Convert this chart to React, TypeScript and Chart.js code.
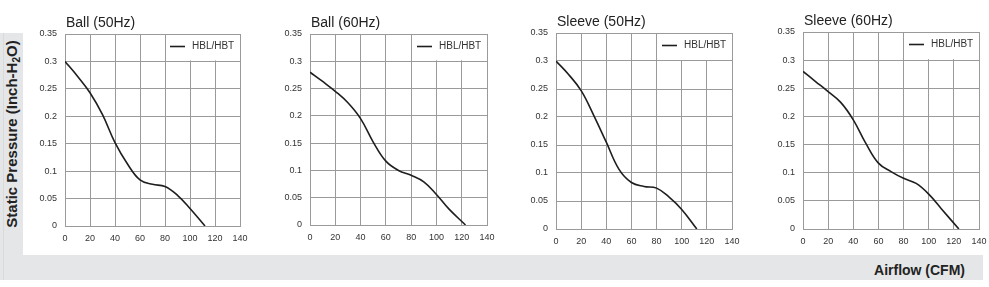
import React, { useEffect, useRef } from "react";
import { Chart, registerables } from "chart.js";

Chart.register(...registerables);

// Shared axis ticks
const airflowTicks = [0, 20, 40, 60, 80, 100, 120, 140];
const pressureTicks = [0, 0.05, 0.1, 0.15, 0.2, 0.25, 0.3, 0.35];
const seriesName = "HBL/HBT";

// Fan curves: airflow (CFM) vs static pressure (inch H2O)
const ball50Flow = [0, 10, 20, 30, 40, 50, 60, 70, 80, 90, 100, 112];
const ball50Pressure = [0.3, 0.273, 0.243, 0.203, 0.152, 0.113, 0.084, 0.076, 0.072, 0.056, 0.032, 0];

const ball60Flow = [0, 10, 20, 30, 40, 50, 60, 70, 80, 90, 100, 110, 123];
const ball60Pressure = [0.28, 0.263, 0.245, 0.224, 0.195, 0.152, 0.117, 0.1, 0.091, 0.079, 0.056, 0.029, 0];

const sleeve50Flow = [0, 10, 20, 30, 40, 50, 60, 70, 80, 90, 100, 112];
const sleeve50Pressure = [0.3, 0.276, 0.247, 0.203, 0.155, 0.107, 0.083, 0.076, 0.073, 0.057, 0.035, 0];

const sleeve60Flow = [0, 10, 20, 30, 40, 50, 60, 70, 80, 90, 100, 110, 124];
const sleeve60Pressure = [0.28, 0.262, 0.244, 0.225, 0.194, 0.152, 0.117, 0.102, 0.09, 0.081, 0.062, 0.036, 0];

const FONT = "'Liberation Sans', Arial, Helvetica, sans-serif";
const GRID = "#9a9a9a";
const AXIS_W = 40;
const PAD_R = 10;
const CANVAS_H = 250;

type Panel = {
  title: string;
  flow: number[];
  pressure: number[];
  area: { left: number; right: number; top: number; bottom: number };
};

const panels: Panel[] = [
  { title: "Ball (50Hz)", flow: ball50Flow, pressure: ball50Pressure, area: { left: 65, right: 240, top: 34, bottom: 226 } },
  { title: "Ball (60Hz)", flow: ball60Flow, pressure: ball60Pressure, area: { left: 310, right: 487, top: 34, bottom: 225 } },
  { title: "Sleeve (50Hz)", flow: sleeve50Flow, pressure: sleeve50Pressure, area: { left: 556, right: 732, top: 33, bottom: 229 } },
  { title: "Sleeve (60Hz)", flow: sleeve60Flow, pressure: sleeve60Pressure, area: { left: 803, right: 979, top: 32, bottom: 229 } },
];

function FanChart({ panel }: { panel: Panel }) {
  const ref = useRef<HTMLCanvasElement | null>(null);
  const { area } = panel;
  const width = area.right - area.left + AXIS_W + PAD_R;

  useEffect(() => {
    if (!ref.current) return;

    // Title above the plot and an in-plot legend with a white backing box
    const decor = {
      id: "panelDecor",
      afterDraw(chart: any) {
        const { ctx, chartArea } = chart;
        ctx.save();
        ctx.fillStyle = "#222";
        ctx.font = `14px ${FONT}`;
        ctx.textBaseline = "middle";
        ctx.textAlign = "left";
        ctx.fillText(panel.title, chartArea.left + 1, chartArea.top - 11);

        const yRow = chart.scales.y.getPixelForValue(0.3);
        const boxL = chartArea.right - 72;
        ctx.fillStyle = "#fff";
        ctx.fillRect(boxL, chartArea.top + 1, chartArea.right - 1 - boxL, yRow - chartArea.top - 2);

        const ly = Math.round(chartArea.top + 11.5) + 0.5;
        ctx.strokeStyle = "#1e1e1e";
        ctx.lineWidth = 1.6;
        ctx.beginPath();
        ctx.moveTo(chartArea.right - 70, ly);
        ctx.lineTo(chartArea.right - 55, ly);
        ctx.stroke();

        ctx.fillStyle = "#333";
        ctx.font = `10px ${FONT}`;
        ctx.fillText(chart.data.datasets[0].label, chartArea.right - 48, ly);
        ctx.restore();
      },
    };

    const tickFont = { family: FONT, size: 9 };
    const chart = new Chart(ref.current, {
      type: "line",
      data: {
        datasets: [
          {
            label: seriesName,
            data: panel.flow.map((x, i) => ({ x, y: panel.pressure[i] })),
            borderColor: "#1e1e1e",
            borderWidth: 1.6,
            pointRadius: 0,
            fill: false,
            tension: 0.4,
          },
        ],
      },
      options: {
        animation: false,
        responsive: false,
        events: [],
        layout: { padding: { left: 0, right: PAD_R, top: area.top, bottom: 0 } },
        plugins: {
          legend: { display: false },
          tooltip: { enabled: false },
          title: { display: false },
        },
        scales: {
          x: {
            type: "linear",
            min: 0,
            max: 140,
            afterBuildTicks: (s: any) => {
              s.ticks = airflowTicks.map((v) => ({ value: v }));
            },
            afterFit: (s: any) => {
              s.height = CANVAS_H - area.bottom;
              s.paddingLeft = 0;
              s.paddingRight = 0;
            },
            grid: { color: GRID, lineWidth: 1, drawTicks: false },
            border: { color: GRID, width: 1 },
            ticks: {
              color: "#333",
              font: tickFont,
              padding: 7,
              maxRotation: 0,
              autoSkip: false,
              callback: (v: any) => String(v),
            },
          },
          y: {
            type: "linear",
            min: 0,
            max: 0.35,
            afterBuildTicks: (s: any) => {
              s.ticks = pressureTicks.map((v) => ({ value: v }));
            },
            afterFit: (s: any) => {
              s.width = AXIS_W;
              s.paddingTop = 0;
              s.paddingBottom = 0;
            },
            grid: { color: GRID, lineWidth: 1, drawTicks: false },
            border: { color: GRID, width: 1 },
            ticks: {
              color: "#333",
              font: tickFont,
              padding: 8,
              autoSkip: false,
              callback: (v: any) => String(Number(Number(v).toFixed(2))),
            },
          },
        },
      },
      plugins: [decor],
    } as any);

    return () => chart.destroy();
  }, [panel]);

  return (
    <canvas
      ref={ref}
      width={width}
      height={CANVAS_H}
      style={{
        position: "absolute",
        left: area.left - AXIS_W,
        top: 0,
        width,
        height: CANVAS_H,
      }}
    />
  );
}

export default function App() {
  const gray = "#e5e6e7";
  return (
    <div
      style={{
        position: "absolute",
        left: 0,
        top: 0,
        width: 989,
        height: 287,
        overflow: "hidden",
        background: "#fff",
        fontFamily: FONT,
      }}
    >
      {/* L-shaped grey frame holding the axis titles */}
      <div style={{ position: "absolute", left: 0, top: 33, width: 23, height: 247, background: gray }} />
      <div style={{ position: "absolute", left: 0, top: 255, width: 983, height: 25, background: gray }} />
      <div style={{ position: "absolute", left: 3, top: 33, width: 1, height: 247, background: "#d9dadb" }} />

      <div
        style={{
          position: "absolute",
          left: 12,
          top: 134,
          transform: "translate(-50%, -50%) rotate(-90deg)",
          whiteSpace: "nowrap",
          fontWeight: "bold",
          fontSize: 15,
          color: "#222",
          lineHeight: "16px",
        }}
      >
        Static Pressure (Inch-H<sub style={{ fontSize: 10, verticalAlign: "-3px", lineHeight: 0 }}>2</sub>O)
      </div>

      <div
        style={{
          position: "absolute",
          right: 989 - 965,
          top: 262,
          whiteSpace: "nowrap",
          fontWeight: "bold",
          fontSize: 14,
          color: "#222",
          lineHeight: "16px",
        }}
      >
        Airflow (CFM)
      </div>

      {panels.map((p) => (
        <FanChart key={p.title} panel={p} />
      ))}
    </div>
  );
}
